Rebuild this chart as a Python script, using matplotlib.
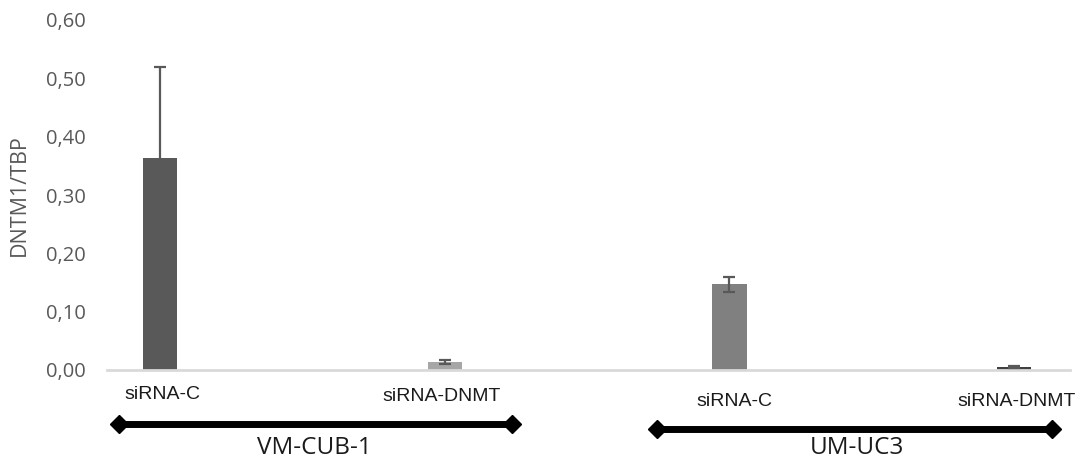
import matplotlib.pyplot as plt
import matplotlib.transforms as mtransforms

plt.rcParams['font.family'] = ['Liberation Sans', 'DejaVu Sans']

# Data
conditions = ["siRNA-C", "siRNA-DNMT", "siRNA-C", "siRNA-DNMT"]
cell_lines = ["VM-CUB-1", "UM-UC3"]
values = [0.363, 0.014, 0.147, 0.005]
errors = [0.157, 0.004, 0.013, 0.002]
bar_colors = ["#595959", "#a6a6a6", "#808080", "#404040"]
yticks = [0.0, 0.1, 0.2, 0.3, 0.4, 0.5, 0.6]

fig = plt.figure(figsize=(10.78, 4.59), dpi=100)
ax = fig.add_axes([107 / 1078, 89 / 459, 963 / 1078, 350 / 459])

x = list(range(len(values)))
ax.bar(x, values, width=0.12, color=bar_colors, zorder=2)
ax.errorbar(x, values, yerr=errors, fmt='none', ecolor='#595959',
            elinewidth=1.6, capsize=4.5, capthick=1.6, zorder=3)

ax.set_xlim(-0.186, 3.196)
ax.set_ylim(0, 0.6)
ax.set_yticks(yticks)
ax.set_yticklabels([f"{v:.2f}".replace('.', ',') for v in yticks],
                   fontsize=14.5, color='#595959', family='Open Sans')
ax.tick_params(axis='y', length=0, pad=15.5)
ax.set_xticks([])

for s in ['top', 'right', 'left']:
    ax.spines[s].set_visible(False)
ax.spines['bottom'].set_color('#d9d9d9')
ax.spines['bottom'].set_linewidth(2)

ax.set_ylabel("DNTM1/TBP", fontsize=15.5, color='#595959', family='Open Sans')
ax.yaxis.set_label_coords(-77 / 963, 0.5)

trans = mtransforms.blended_transform_factory(ax.transData, ax.transAxes)

# Condition labels under each bar
label_offsets = [(0.01, -0.069), (-0.01, -0.077), (0.018, -0.091), (0.007, -0.091)]
for xi, lab, (dx, yy) in zip(x, conditions, label_offsets):
    ax.text(xi + dx, yy, lab, transform=trans, ha='center', va='center',
            fontsize=14, color='#1a1a1a')

# Cell line brackets with diamond ends
groups = [((-0.144, 1.236), -0.154, 0.544, -0.24),
          ((1.746, 3.133), -0.169, 2.449, -0.24)]
for name, ((x0, x1), yl, xt, yt) in zip(cell_lines, groups):
    ax.plot([x0, x1], [yl, yl], transform=trans, color='black', lw=5,
            clip_on=False, solid_capstyle='butt',
            marker='D', markersize=9, markevery=[0, 1])
    ax.text(xt, yt, name, transform=trans, ha='center', va='baseline',
            fontsize=17.5, color='#1a1a1a', family='Open Sans')

fig.savefig("out.png", dpi=100)
